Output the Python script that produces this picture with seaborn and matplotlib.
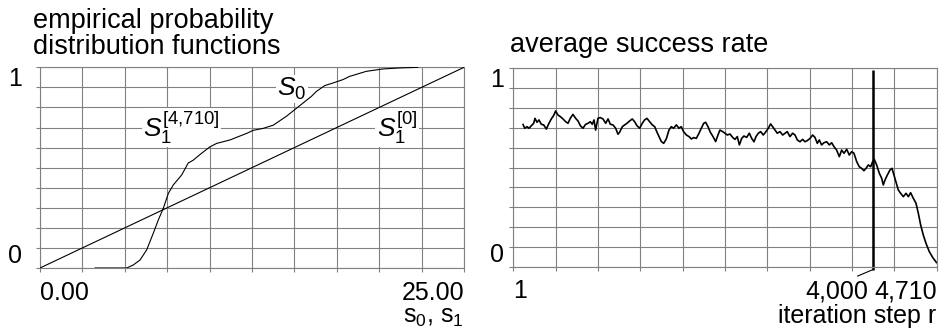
import numpy as np
import matplotlib.pyplot as plt
import seaborn as sns

# left panel: empirical distribution functions
cdf_s = [3.24, 5.11, 5.50, 5.90, 6.29, 6.68, 6.98, 7.27, 7.57, 7.86,
         8.35, 8.74, 9.03, 9.43, 10.02, 10.42, 11.20, 12.19, 12.57, 13.17,
         13.76, 14.53, 15.02, 15.51, 16.00, 16.30, 16.79, 17.28, 17.87, 18.26,
         19.24, 20.23, 21.21, 22.29]
cdf_p = [0.0, 0.0, 0.015, 0.04, 0.09, 0.173, 0.24, 0.297, 0.372, 0.414,
         0.463, 0.523, 0.537, 0.565, 0.604, 0.621, 0.638, 0.671, 0.686, 0.696,
         0.712, 0.756, 0.789, 0.822, 0.855, 0.880, 0.909, 0.922, 0.939, 0.955,
         0.980, 0.992, 0.997, 1.0]
uniform_s = [0.0, 25.0]
uniform_p = [0.0, 1.0]

# right panel: average success rate per iteration step
step_r = [109, 128, 153, 176, 202, 228, 242, 265, 287, 313,
          339, 369, 398, 424, 450, 472, 498, 524, 554, 584,
          610, 635, 665, 695, 721, 747, 776, 806, 832, 858,
          880, 899, 917, 943, 969, 999, 1029, 1055, 1081, 1110,
          1140, 1166, 1184, 1214, 1240, 1266, 1296, 1325, 1351, 1377,
          1407, 1436, 1462, 1488, 1518, 1548, 1574, 1600, 1622, 1648,
          1674, 1703, 1733, 1759, 1785, 1815, 1844, 1870, 1896, 1926,
          1956, 1982, 2008, 2037, 2067, 2093, 2119, 2141, 2167, 2193,
          2223, 2252, 2278,
          2300, 2330, 2356, 2382, 2412, 2441, 2467, 2493, 2516, 2542,
          2567, 2597, 2627, 2653, 2679, 2701, 2727, 2753, 2782, 2812,
          2838, 2864, 2886, 2912, 2938, 2968, 2998, 3024, 3049, 3079,
          3109, 3135, 3161, 3190, 3220, 3246, 3272, 3302, 3331, 3357,
          3383, 3405, 3431, 3457, 3487, 3517, 3543, 3569, 3598, 3628,
          3654, 3680, 3710, 3739, 3765, 3791, 3821, 3850, 3876, 3902,
          3925, 3951, 3977, 3999, 4017, 4043, 4073, 4099, 4117, 4136,
          4162, 4192, 4214, 4236, 4258, 4284, 4310, 4340, 4370, 4396,
          4421, 4451, 4481, 4507, 4533, 4562, 4592, 4629, 4666, 4703,
          4710]
success = [0.718, 0.698, 0.706, 0.698, 0.711, 0.723, 0.748, 0.728, 0.740, 0.718,
           0.715, 0.694, 0.723, 0.745, 0.762, 0.785, 0.765, 0.757, 0.745, 0.731,
           0.723, 0.748, 0.768, 0.748, 0.735, 0.711, 0.698, 0.718, 0.723, 0.731,
           0.718, 0.740, 0.689, 0.748, 0.752, 0.745, 0.723, 0.745, 0.718, 0.715,
           0.698, 0.668, 0.678, 0.706, 0.715, 0.723, 0.735, 0.745, 0.731, 0.711,
           0.698, 0.723, 0.740, 0.748, 0.731, 0.715, 0.706, 0.678, 0.656, 0.631,
           0.622, 0.644, 0.689, 0.706, 0.698, 0.715, 0.698, 0.706, 0.681, 0.664,
           0.656, 0.644, 0.651, 0.647, 0.673, 0.698, 0.723, 0.728, 0.706, 0.678,
           0.656, 0.631, 0.664,
           0.689, 0.681, 0.673, 0.664, 0.669, 0.652, 0.642, 0.656, 0.614, 0.647,
           0.659, 0.652, 0.673, 0.647, 0.630, 0.656, 0.673, 0.681, 0.664, 0.681,
           0.698, 0.720, 0.706, 0.689, 0.673, 0.681, 0.664, 0.673, 0.681, 0.656,
           0.673, 0.664, 0.639, 0.630, 0.642, 0.630, 0.636, 0.647, 0.664, 0.652,
           0.622, 0.639, 0.614, 0.625, 0.630, 0.614, 0.625, 0.605, 0.588, 0.555,
           0.588, 0.572, 0.592, 0.563, 0.580, 0.572, 0.530, 0.504, 0.496, 0.484,
           0.496, 0.513, 0.504, 0.530, 0.541, 0.513, 0.471, 0.446, 0.412, 0.437,
           0.462, 0.488, 0.496, 0.462, 0.429, 0.387, 0.370, 0.353, 0.370, 0.353,
           0.373, 0.345, 0.320, 0.269, 0.210, 0.160, 0.118, 0.076, 0.047, 0.025,
           0.020]
first_step = 1
marker_step = 4000
last_step = 4710

sns.set_style("white")
plt.rcParams['font.family'] = ['Liberation Sans', 'DejaVu Sans']
plt.rcParams['text.color'] = 'black'
plt.rcParams['mathtext.fontset'] = 'custom'
plt.rcParams['mathtext.rm'] = 'Liberation Sans'
plt.rcParams['mathtext.it'] = 'Liberation Sans:italic'

GRID = '#808080'
FS = 18

fig = plt.figure(figsize=(9.43, 3.35), dpi=100)
ax1 = fig.add_axes([0.0424, 0.2, 0.4496, 0.599])
ax2 = fig.add_axes([0.5443, 0.2039, 0.4489, 0.592])


def style_grid(ax, xmin, xmax, ypad):
    ax.set_xlim(xmin, xmax)
    ax.set_ylim(0, 1)
    ax.set_xticks(np.linspace(xmin, xmax, 11))
    ax.set_yticks(np.linspace(0, 1, 11))
    ax.grid(True, color=GRID, lw=0.8)
    for sp in ax.spines.values():
        sp.set_color(GRID)
        sp.set_linewidth(0.8)
    ax.tick_params(bottom=True, left=True, length=3, width=0.8, color=GRID,
                   labelsize=FS, labelcolor='black')
    ax.tick_params(axis='x', pad=6)
    ax.tick_params(axis='y', pad=ypad)
    ax.set_yticklabels(['0'] + [''] * 9 + ['1'])
    ylabs = ax.get_yticklabels()
    ylabs[0].set_va('bottom')
    ylabs[-1].set_va('top')
    ax.set_xlabel('')
    ax.set_ylabel('')


# ---- left panel ----
sns.lineplot(x=uniform_s, y=uniform_p, ax=ax1, color='black', lw=0.8, zorder=3)
sns.lineplot(x=cdf_s, y=cdf_p, ax=ax1, color='black', lw=0.8, sort=False, zorder=3)
style_grid(ax1, 0, 25, 10)
ax1.set_xticklabels(['0.00'] + [''] * 9 + ['25.00'])
xl = ax1.get_xticklabels()
xl[0].set_ha('left')
xl[-1].set_ha('right')

# curve names sit on white patches that hide the grid but not the curves
box = dict(facecolor='white', edgecolor='none', pad=1)
ax1.text(14.0, 0.858, r'$S_0$', fontsize=FS + 1, ha='left', va='baseline',
         bbox=box, zorder=2)
ax1.text(6.09, 0.654, r'$S_1^{\mathrm{[4{,}710]}}$', fontsize=FS + 1,
         ha='left', va='baseline', bbox=box, zorder=2)
ax1.text(19.85, 0.654, r'$S_1^{\mathrm{[0]}}$', fontsize=FS + 1,
         ha='left', va='baseline', bbox=box, zorder=2)
ax1.text(1.0, -0.272, r'$\mathrm{s}_0$, $\mathrm{s}_1$', transform=ax1.transAxes,
         fontsize=FS, ha='right', va='baseline')

# ---- right panel ----
sns.lineplot(x=step_r, y=success, ax=ax2, color='black', lw=1.2, sort=False)
style_grid(ax2, first_step, last_step, 4)
ax2.set_xticklabels(['1'] + [''] * 9 + ['4,710'])
xl = ax2.get_xticklabels()
xl[0].set_ha('left')
xl[-1].set_ha('right')
ax2.plot([marker_step, marker_step], [-0.015, 0.99], color='black', lw=1.8,
         clip_on=False, solid_capstyle='butt')
ax2.annotate('4,000', xy=(marker_step, -0.015), xycoords='data',
             xytext=(-3, -7), textcoords='offset points', ha='right', va='top',
             fontsize=FS, color='black', annotation_clip=False,
             arrowprops=dict(arrowstyle='-', color='black', lw=0.8,
                             relpos=(0.7, 1.0), shrinkA=0, shrinkB=0))
ax2.text(1.0, -0.285, 'iteration step r', transform=ax2.transAxes,
         fontsize=FS, ha='right', va='baseline')

# titles
fig.text(33 / 943, 1 - 8 / 335, 'empirical probability\ndistribution functions',
         fontsize=19.5, ha='left', va='top', linespacing=0.98)
fig.text(510 / 943, 1 - 52 / 335, 'average success rate',
         fontsize=19.5, ha='left', va='baseline')

fig.savefig('out.png', dpi=100)
